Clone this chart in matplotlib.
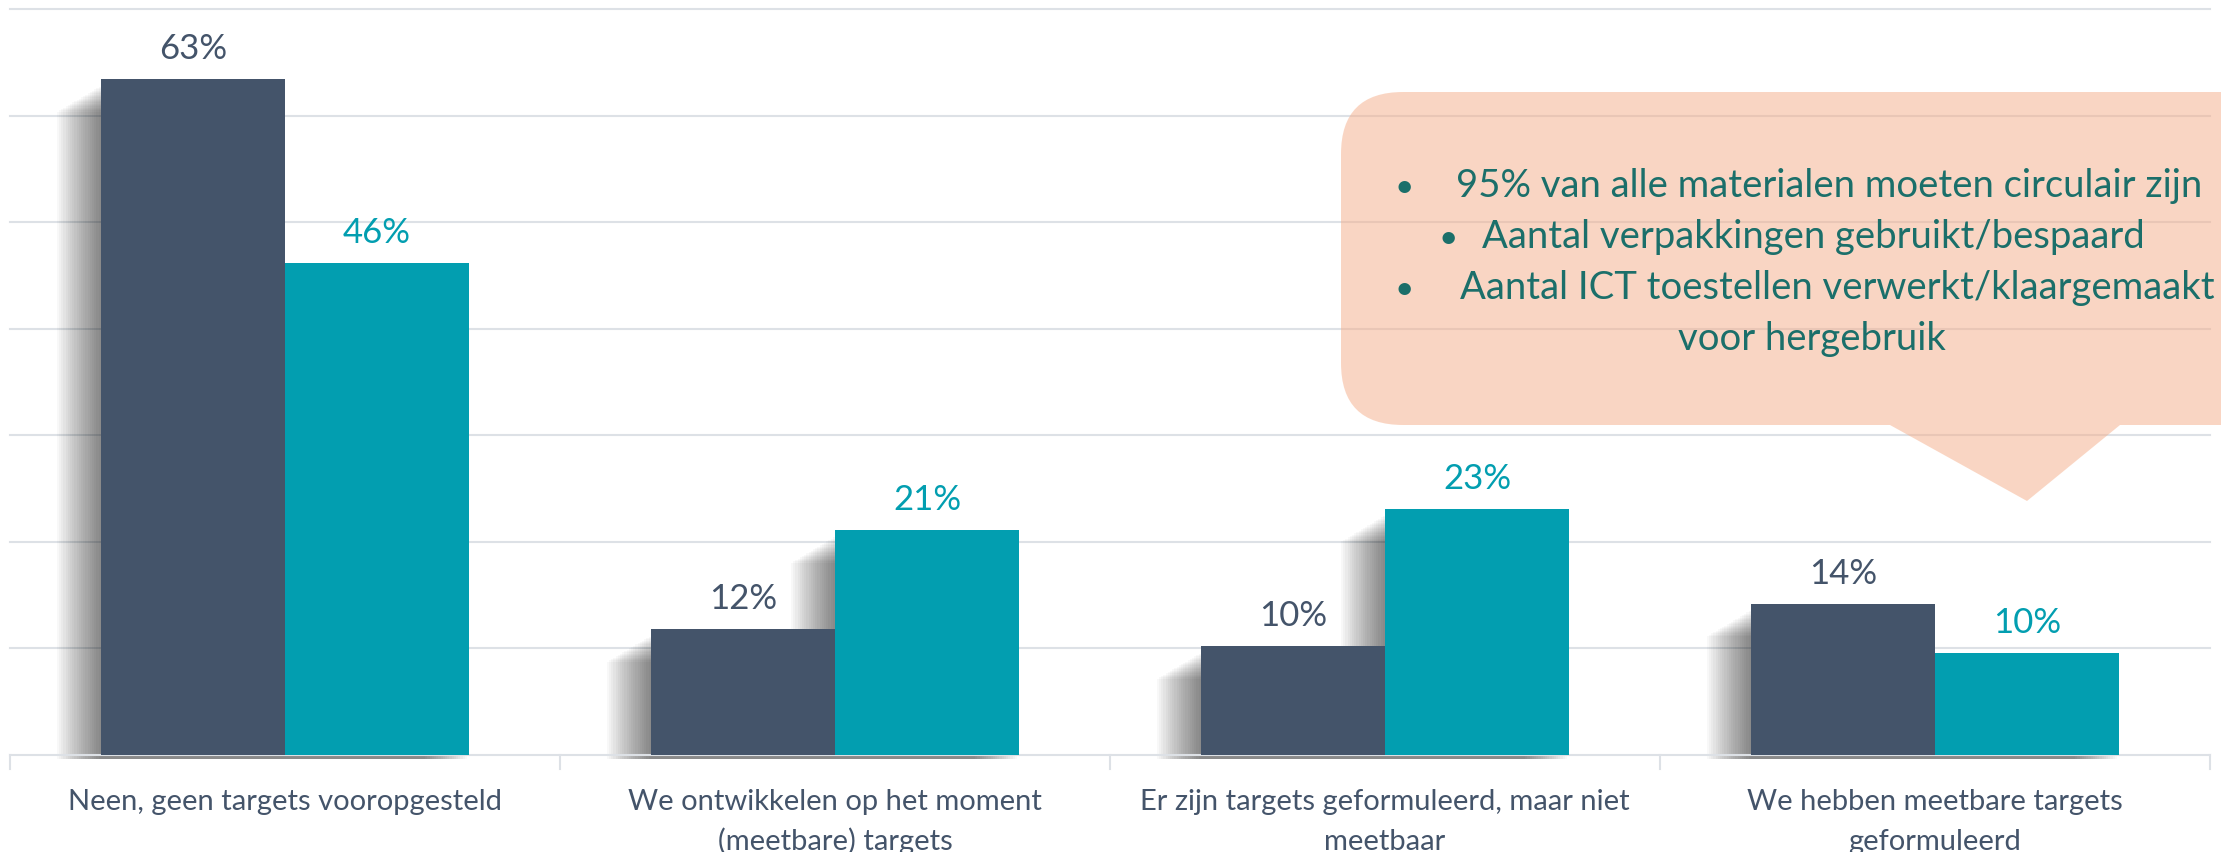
import matplotlib
matplotlib.use("Agg")
import matplotlib.pyplot as plt
from matplotlib.path import Path
from matplotlib.patches import PathPatch, Rectangle
import matplotlib.transforms as mtransforms

categories = [
    "Neen, geen targets vooropgesteld",
    "We ontwikkelen op het moment\n(meetbare) targets",
    "Er zijn targets geformuleerd, maar niet\nmeetbaar",
    "We hebben meetbare targets\ngeformuleerd",
]
series_a = [0.634, 0.118, 0.102, 0.142]
series_b = [0.462, 0.211, 0.231, 0.096]
callout_lines = [
    "95% van alle materialen moeten circulair zijn",
    "Aantal verpakkingen gebruikt/bespaard",
    "Aantal ICT toestellen verwerkt/klaargemaakt",
    "voor hergebruik",
]

DARK = "#44546A"
TEAL = "#029EB0"
GRID = "#DDE1E6"
NOTE_TXT = "#1B6F6A"
FONT = "Lato"

W, H = 2221, 853
fig = plt.figure(figsize=(W / 100, H / 100), dpi=100)
plt.rcParams["font.family"] = [FONT, "DejaVu Sans"]

# axes in pixel terms: left 10, right 2210, baseline 756, top 10
ax = fig.add_axes([10 / W, 1 - 756 / H, 2200 / W, 746 / H])
ax.set_xlim(-0.5, 3.5)
ax.set_ylim(0, 0.70)
px_x = 4.0 / 2200      # data units per pixel, x
px_y = 0.70 / 746      # data units per pixel, y

bw = 0.335
for s in ["top", "right", "left"]:
    ax.spines[s].set_visible(False)
ax.spines["bottom"].set_color(GRID)
ax.spines["bottom"].set_linewidth(1.5)
ax.set_yticks([0.1 * k for k in range(1, 8)])
ax.yaxis.grid(True, color=GRID, linewidth=1.5, zorder=0)
ax.set_axisbelow(True)
ax.tick_params(left=False, labelleft=False, bottom=False, labelbottom=False)
for gl in ax.get_ygridlines():
    gl.set_clip_on(False)

# soft drop shadow, offset to the left
def shadow(x_left, w, v):
    n = 20
    for k in range(1, n + 1):
        d = k * 2.2
        top = v - (6 + d * 0.6) * px_y
        ax.add_patch(Rectangle((x_left - d * px_x, -4 * px_y), w, top + 4 * px_y,
                               facecolor="black", edgecolor="none", alpha=0.028,
                               zorder=1.5, clip_on=False))

for i in range(len(categories)):
    shadow(i - bw, bw, series_a[i])
    shadow(i, bw, series_b[i])

ax.bar([i - bw / 2 for i in range(4)], series_a, bw, color=DARK, zorder=3)
ax.bar([i + bw / 2 for i in range(4)], series_b, bw, color=TEAL, zorder=3)

for i in range(4):
    ax.annotate(f"{series_a[i] * 100:.0f}%", (i - bw / 2, series_a[i]), xytext=(0, 21),
                textcoords="offset pixels", ha="center", va="baseline",
                fontsize=25, color=DARK, zorder=4)
    ax.annotate(f"{series_b[i] * 100:.0f}%", (i + bw / 2, series_b[i]), xytext=(0, 21),
                textcoords="offset pixels", ha="center", va="baseline",
                fontsize=25, color=TEAL, zorder=4)

# category separators below the axis
trans = mtransforms.blended_transform_factory(ax.transData, ax.transAxes)
for b in [-0.5, 0.5, 1.5, 2.5, 3.5]:
    ax.plot([b, b], [0, -14 / 746], transform=trans, color=GRID, lw=1.5, clip_on=False)

for i, lab in enumerate(categories):
    for j, line in enumerate(lab.split("\n")):
        ax.annotate(line, (i, 0), xycoords=trans, xytext=(0, -54 - 40 * j),
                    textcoords="offset pixels", ha="center", va="baseline",
                    fontsize=21, color=DARK, annotation_clip=False)

# callout bubble, drawn in pixel coordinates on an overlay
ov = fig.add_axes([0, 0, 1, 1])
ov.set_xlim(0, W)
ov.set_ylim(H, 0)
ov.axis("off")
ov.patch.set_alpha(0)

x0, x1, y0, y1, r = 1341, 2300, 93, 426, 62
tl, tr, tip = 1890, 2120, (2027, 502)
verts = [(x0 + r, y0), (x1 - r, y0), (x1, y0), (x1, y0 + r), (x1, y1 - r), (x1, y1), (x1 - r, y1),
         (tr, y1), tip, (tl, y1), (x0 + r, y1), (x0, y1), (x0, y1 - r), (x0, y0 + r), (x0, y0),
         (x0 + r, y0), (x0 + r, y0)]
codes = [Path.MOVETO, Path.LINETO, Path.CURVE3, Path.CURVE3, Path.LINETO, Path.CURVE3, Path.CURVE3,
         Path.LINETO, Path.LINETO, Path.LINETO, Path.LINETO, Path.CURVE3, Path.CURVE3, Path.LINETO,
         Path.CURVE3, Path.CURVE3, Path.CLOSEPOLY]
ov.add_patch(PathPatch(Path(verts, codes), facecolor="#F5AD88", edgecolor="none", alpha=0.5))

bullets = [(1404, 1456, 197), (1448, 1482, 248), (1404, 1460, 299)]
for (bx, tx, by), line in zip(bullets, callout_lines[:3]):
    ov.text(bx, by, "•", ha="center", va="baseline", fontsize=24, color=NOTE_TXT)
    ov.text(tx, by, line, ha="left", va="baseline", fontsize=27.5, color=NOTE_TXT)
ov.text(1812, 350, callout_lines[3], ha="center", va="baseline", fontsize=27.5, color=NOTE_TXT)

fig.savefig("out.png", dpi=100)
